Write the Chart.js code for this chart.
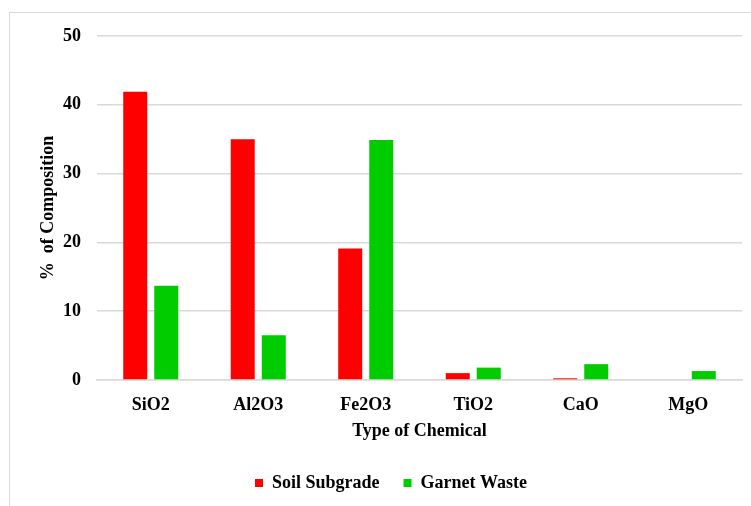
<!DOCTYPE html>
<html>
<head>
<meta charset="utf-8">
<script src="https://cdn.jsdelivr.net/npm/chart.js@4/dist/chart.umd.min.js"></script>
<style>
  html, body { margin: 0; padding: 0; background: #ffffff; overflow: hidden; width: 751px; height: 506px; }
  #frame { position: absolute; left: 9px; top: 12px; width: 762px; height: 520px; border: 1px solid #d9d9d9; background: #fff; }
  #chart { display: block; }
</style>
</head>
<body>
<div id="frame"><canvas id="chart" width="762" height="520"></canvas></div>
<script>
// Chemical composition of soil subgrade vs. garnet waste (% by mass)
const chemicals = ['SiO2', 'Al2O3', 'Fe2O3', 'TiO2', 'CaO', 'MgO'];
const soilSubgrade = [41.9, 35.0, 19.1, 1.0, 0.25, 0];
const garnetWaste = [13.7, 6.5, 34.9, 1.8, 2.3, 1.3];
const yTicks = [0, 10, 20, 30, 40, 50];

const serif = "'Liberation Serif', 'Times New Roman', serif";
const boldFont = { family: serif, size: 18, weight: 'bold' };
const gridGrey = '#d9d9d9';

// Center the legend on the whole frame rather than on the padded layout box
const legendShift = {
  id: 'legendShift',
  afterLayout(chart) {
    const lg = chart.legend;
    if (lg) { lg.left += 6; lg.right += 6; }
  }
};

new Chart(document.getElementById('chart'), {
  type: 'bar',
  data: {
    labels: chemicals,
    datasets: [
      { label: 'Soil Subgrade', data: soilSubgrade, backgroundColor: '#ff0000', borderWidth: 0 },
      { label: 'Garnet Waste', data: garnetWaste, backgroundColor: '#00cc00', borderWidth: 0 }
    ]
  },
  plugins: [legendShift],
  options: {
    responsive: false,
    animation: false,
    devicePixelRatio: 1,
    datasets: { bar: { categoryPercentage: 0.577, barPercentage: 0.774 } },
    layout: { padding: { left: 18, top: 23, right: 30, bottom: 31 } },
    plugins: {
      tooltip: { enabled: false },
      legend: {
        position: 'bottom',
        labels: {
          boxWidth: 8, boxHeight: 8, padding: 24,
          color: '#000', font: boldFont
        }
      }
    },
    scales: {
      x: {
        grid: { display: false, drawTicks: false },
        border: { display: true, color: gridGrey, width: 1.5 },
        ticks: { color: '#000', font: boldFont, padding: 15, maxRotation: 0 },
        title: { display: true, text: 'Type of Chemical', color: '#000', font: boldFont, padding: { top: 0, bottom: 8 } },
        afterFit: s => { s.height = 70; }
      },
      y: {
        min: 0, max: 50,
        afterBuildTicks: s => { s.ticks = yTicks.map(v => ({ value: v })); },
        grid: { color: gridGrey, lineWidth: 1.5, drawTicks: false },
        border: { display: false },
        ticks: { color: '#000', font: boldFont, padding: 16 },
        title: { display: true, text: '%  of Composition', color: '#000', font: boldFont, padding: { top: 10, bottom: 0 } },
        afterFit: s => { s.width = 69; s.paddingTop = 0; s.paddingBottom = 0; }
      }
    }
  }
});
</script>
</body>
</html>
